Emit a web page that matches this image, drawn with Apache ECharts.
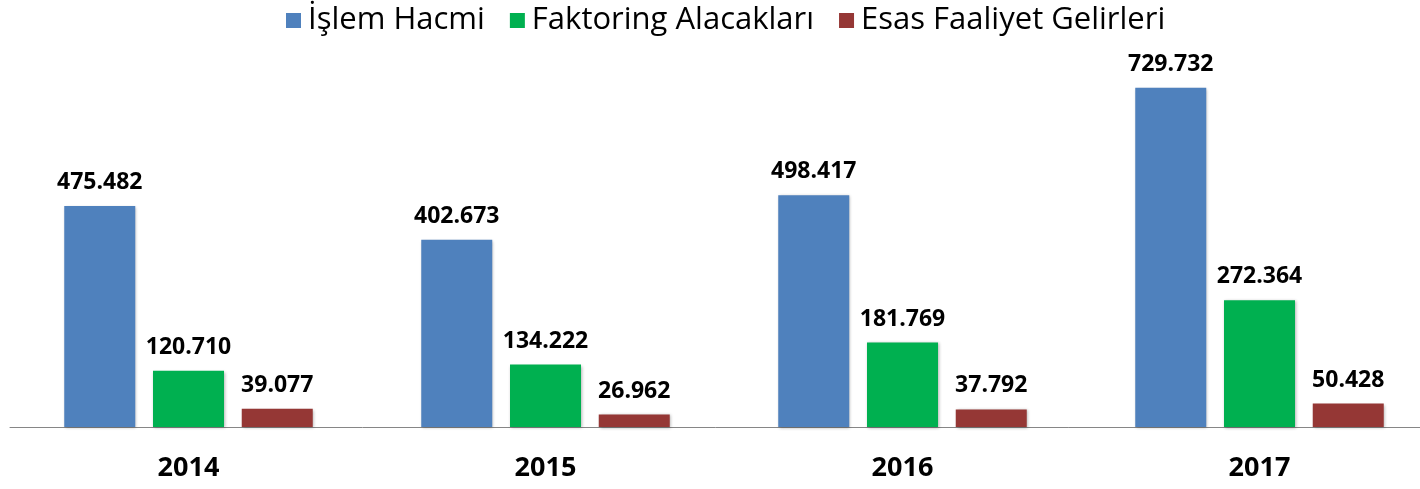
<!DOCTYPE html>
<html>
<head>
<meta charset="utf-8">
<script src="https://cdn.jsdelivr.net/npm/echarts@6/dist/echarts.min.js"></script>
<style>
    html, body { margin: 0; padding: 0; background: #fff; }
    #chart { width: 1420px; height: 489px; }
</style>
</head>
<body>
<div id="chart"></div>
<script>
var years = ['2014', '2015', '2016', '2017'];
var islemHacmi = [475482, 402673, 498417, 729732];
var faktoringAlacaklari = [120710, 134222, 181769, 272364];
var esasFaaliyetGelirleri = [39077, 26962, 37792, 50428];

var myChart = echarts.init(document.getElementById('chart'));

// binlik ayraç nokta
function fmt(p) {
    return String(p.value).replace(/\B(?=(\d{3})+(?!\d))/g, '.');
}

var barLabel = {
    show: true,
    position: 'top',
    distance: 12,
    formatter: fmt,
    color: '#000',
    fontFamily: 'Open Sans',
    fontWeight: 'bold',
    fontSize: 23
};

var barShadow = {
    shadowColor: 'rgba(0,0,0,0.3)',
    shadowBlur: 3,
    shadowOffsetX: 1,
    shadowOffsetY: 1
};

var option = {
    animation: false,
    legend: {
        top: 0,
        left: 281,
        itemWidth: 15,
        itemHeight: 15,
        itemGap: 25,
        icon: 'rect',
        textStyle: {
            fontFamily: 'Open Sans',
            fontSize: 31,
            color: '#000',
            padding: [0, 0, 0, 2]
        },
        data: ['İşlem Hacmi', 'Faktoring Alacakları', 'Esas Faaliyet Gelirleri']
    },
    grid: {
        left: 10,
        width: 1428,
        top: 55,
        bottom: 62,
        outerBoundsMode: 'none'
    },
    xAxis: {
        type: 'category',
        data: years,
        axisLine: { lineStyle: { color: '#868686', width: 1 } },
        axisTick: { show: false },
        axisLabel: {
            margin: 28,
            color: '#000',
            fontFamily: 'Open Sans',
            fontWeight: 'bold',
            fontSize: 27
        }
    },
    yAxis: {
        type: 'value',
        min: 0,
        max: 800000,
        show: false,
        splitLine: { show: false }
    },
    series: [
        {
            name: 'İşlem Hacmi',
            type: 'bar',
            barWidth: 71,
            barGap: '25%',
            itemStyle: Object.assign({ color: '#4F81BD' }, barShadow),
            label: barLabel,
            data: islemHacmi
        },
        {
            name: 'Faktoring Alacakları',
            type: 'bar',
            barWidth: 71,
            barGap: '25%',
            itemStyle: Object.assign({ color: '#00B050' }, barShadow),
            label: barLabel,
            data: faktoringAlacaklari
        },
        {
            name: 'Esas Faaliyet Gelirleri',
            type: 'bar',
            barWidth: 71,
            barGap: '25%',
            itemStyle: Object.assign({ color: '#953735' }, barShadow),
            label: barLabel,
            data: esasFaaliyetGelirleri
        }
    ]
};

myChart.setOption(option);
window.addEventListener('resize', function () {
    myChart.resize();
});
</script>
</body>
</html>
